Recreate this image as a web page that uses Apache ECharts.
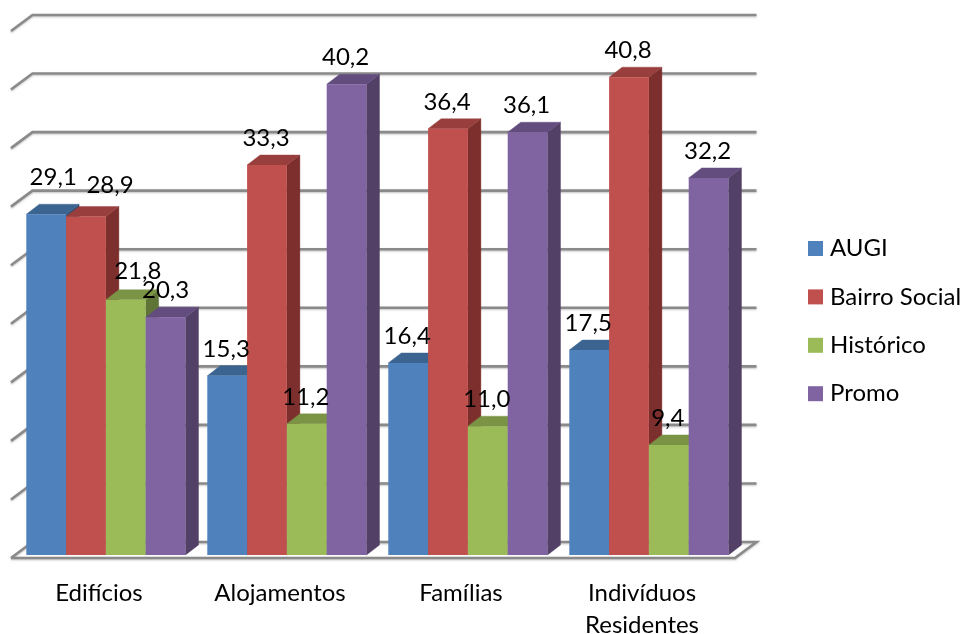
<!DOCTYPE html>
<html><head><meta charset="utf-8">
<style>html,body{margin:0;padding:0;background:#fff}#c{width:966px;height:634px}</style>
<script src="https://cdn.jsdelivr.net/npm/echarts@6/dist/echarts.min.js"></script>
</head><body><div id="c"></div>
<script>
const categories = ['Edifícios','Alojamentos','Famílias','Indivíduos\nResidentes'];
const augi = [29.1,15.3,16.4,17.5];
const bairroSocial = [28.9,33.3,36.4,40.8];
const historico = [21.8,11.2,11.0,9.4];
const promo = [20.3,40.2,36.1,32.2];
const gridTicks = [0,5,10,15,20,25,30,35,40,45];
const seriesNames = ['AUGI','Bairro Social','Histórico','Promo'];
const seriesValues = [augi,bairroSocial,historico,promo];
const FONT='Lato';
const faces = [
 {front:'#4F81BD',top:'#3C6491',side:'#2F4F76'},
 {front:'#C0504D',top:'#983E3C',side:'#7C2F2D'},
 {front:'#9BBB59',top:'#7A9345',side:'#607438'},
 {front:'#8064A2',top:'#634D7F',side:'#534066'}
];
const wallDX=21.5, wallDY=-16, barDX=13, barDY=-10, insetX=4.4, insetY=-3;
const barFrac=39.8/181;
// hand-placed labels in the first group of the reference
const labelShift={ '0_0':[8,-10], '1_0':[25,-5], '2_0':[13,-2], '3_0':[1,0] };

function wallItem(params,api){
  const v=api.value(0), band=api.size([1,0])[0];
  const p=api.coord([0,v]), lx=p[0]-band/2, y=p[1], rx=lx+band*categories.length;
  const st={stroke:'#8A8A8A',lineWidth:2.6,fill:null,shadowBlur:2,shadowColor:'rgba(140,140,140,0.5)',shadowOffsetY:1};
  const pts=[[lx,y],[lx+wallDX,y+wallDY],[rx+wallDX,y+wallDY]];
  if(v===0){pts.push([rx,y]);pts.push([lx,y]);}
  return {type:'polyline',shape:{points:pts},style:st,silent:true};
}
function barItem(si){return function(params,api){
  const c=api.value(0), val=api.value(1), band=api.size([1,0])[0], w=band*barFrac;
  const base=api.coord([c,0]), top=api.coord([c,val]);
  const x0=base[0]-2*w+insetX, x1=x0+w*(si+1), xs=x0+w*si;
  const yb=base[1]+insetY, yt=top[1]+insetY, f=faces[si];
  const poly=(pts,col)=>({type:'polygon',shape:{points:pts},style:{fill:col,stroke:col,lineWidth:0.4},silent:true});
  return {type:'group',children:[
    poly([[x1,yb],[x1+barDX,yb+barDY],[x1+barDX,yt+barDY],[x1,yt]],f.side),
    poly([[xs,yt],[xs+barDX,yt+barDY],[x1+barDX,yt+barDY],[x1,yt]],f.top),
    {type:'rect',shape:{x:xs,y:yt,width:w,height:yb-yt},style:{fill:f.front},silent:true}
  ]};
};}
function labelItem(si){return function(params,api){
  const c=api.value(0), val=api.value(1), band=api.size([1,0])[0], w=band*barFrac;
  const base=api.coord([c,0]), top=api.coord([c,val]);
  const cx=base[0]-2*w+insetX+w*(si+0.5)-1, s=labelShift[si+'_'+c]||[0,0];
  return {type:'text',silent:true,style:{
    x:cx+s[0],y:top[1]+insetY-26.5+s[1],text:val.toFixed(1).replace('.',','),
    fill:'#000',font:'24px '+FONT,textAlign:'center',textVerticalAlign:'middle'}};
};}
const series=[{type:'custom',name:'walls',renderItem:wallItem,data:gridTicks.map(v=>[v]),
  encode:{y:0},z:1,silent:true,animation:false}];
seriesNames.forEach((n,i)=>{
  series.push({type:'custom',name:n,renderItem:barItem(i),z:2+i,animation:false,
    itemStyle:{color:faces[i].front},encode:{x:0,y:1},
    data:seriesValues[i].map((v,k)=>[k,v])});
});
seriesNames.forEach((n,i)=>{
  series.push({type:'custom',name:n+' labels',renderItem:labelItem(i),z:20,animation:false,silent:true,
    encode:{x:0,y:1},data:seriesValues[i].map((v,k)=>[k,v])});
});
const chart=echarts.init(document.getElementById('c'),null,{renderer:'canvas'});
chart.setOption({
  animation:false,backgroundColor:'#fff',
  grid:{left:11,top:31,width:724,height:527,containLabel:false,outerBoundsMode:'none'},
  xAxis:{type:'category',data:categories,axisLine:{show:false},axisTick:{show:false},splitLine:{show:false},
    axisLabel:{color:'#000',fontFamily:FONT,fontSize:24,lineHeight:32,margin:19,interval:0,padding:[0,5,0,0]}},
  yAxis:{type:'value',min:0,max:45,interval:5,axisLine:{show:false},axisTick:{show:false},axisLabel:{show:false},splitLine:{show:false}},
  legend:{data:seriesNames,orient:'vertical',left:808,top:236.5,padding:0,itemWidth:15,itemHeight:15,itemGap:24.4,
    icon:'rect',selectedMode:false,
    textStyle:{color:'#000',fontFamily:FONT,fontSize:24,padding:[0,0,0,2]}},
  series
});
</script></body></html>
